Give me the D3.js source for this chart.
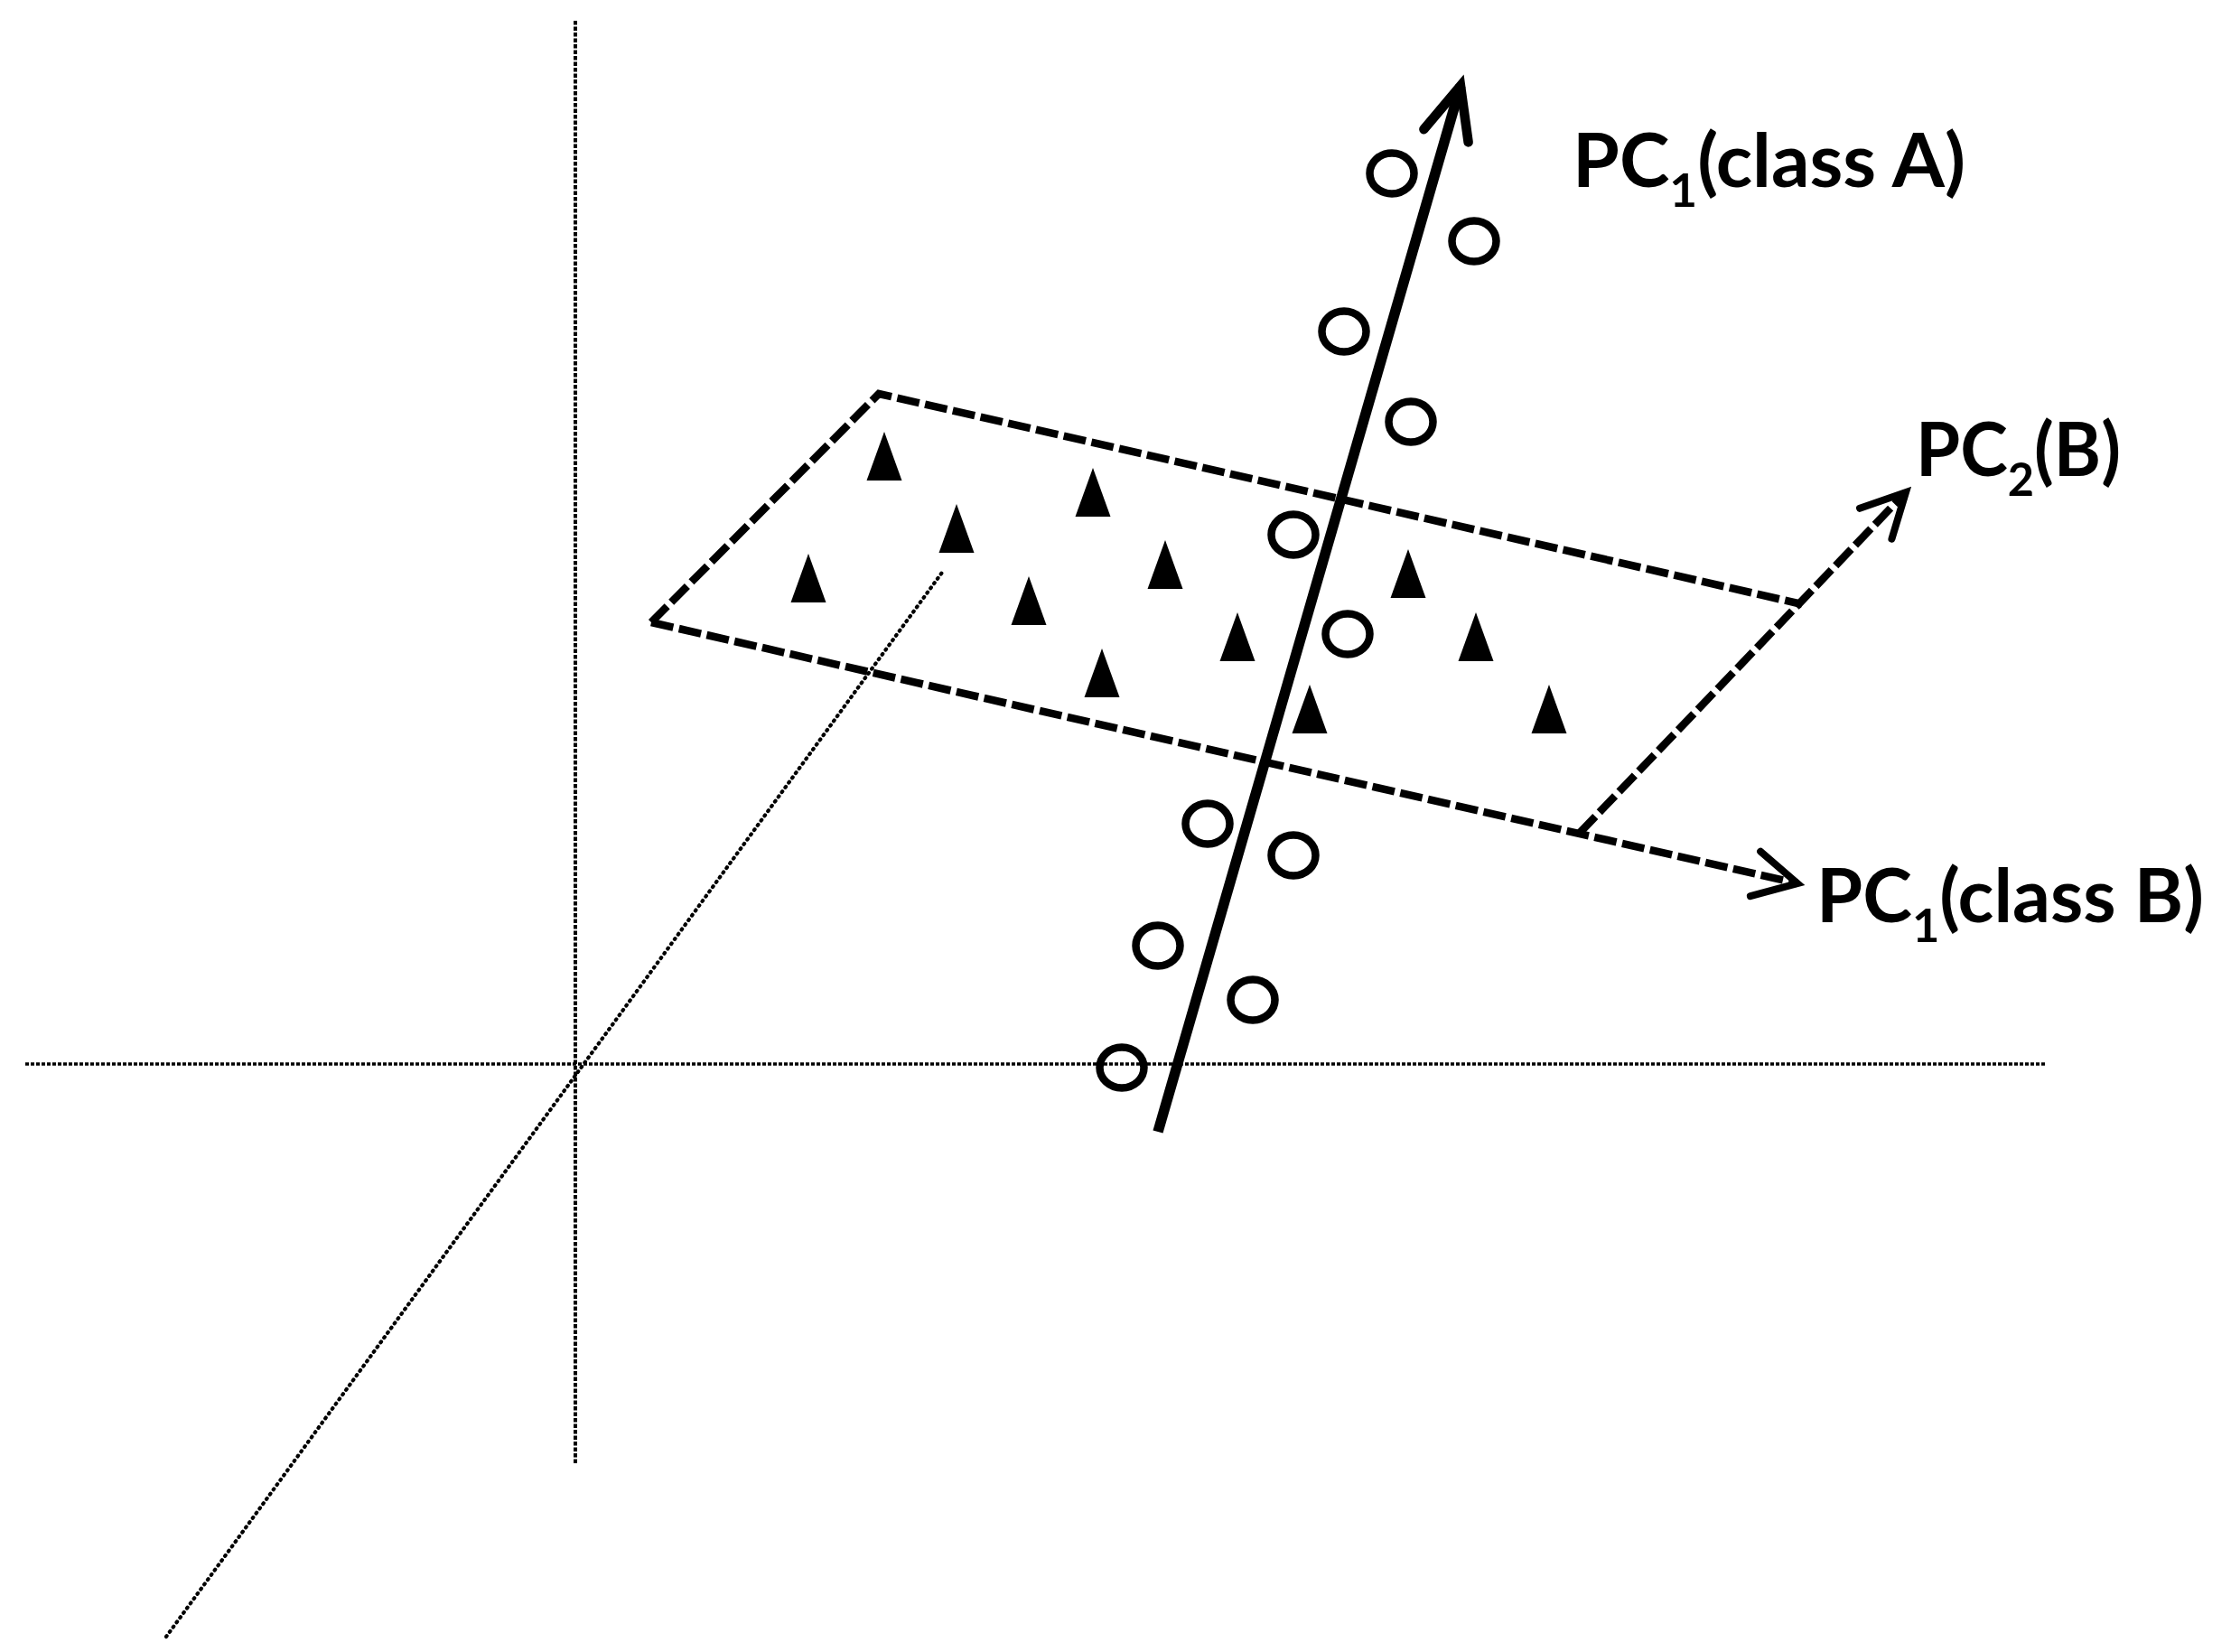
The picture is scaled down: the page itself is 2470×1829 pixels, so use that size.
<!DOCTYPE html>
<html>
<head>
<meta charset="utf-8">
<script src="https://cdn.jsdelivr.net/npm/d3@7"></script>
<style>
  html, body { margin: 0; padding: 0; background: #fff; }
  svg { display: block; }
</style>
</head>
<body>
<script>
// ---------- data (abstract diagram units, origin = axes crossing) ----------
const classA = [ // open circles, along PC1(class A)
  [9.04, 9.86], [9.95, 9.11], [8.51, 8.11], [9.25, 7.11], [7.95, 5.86],
  [8.55, 4.76], [7.00, 2.66], [7.95, 2.31], [6.45, 1.31], [7.50, 0.71], [6.05, -0.04]
];
const classB = [ // filled triangles, in the PC plane of class B
  [3.42, 6.73], [5.73, 6.33], [4.22, 5.93], [2.58, 5.38], [6.53, 5.53], [5.02, 5.13],
  [9.22, 5.43], [7.33, 4.73], [9.97, 4.73], [5.83, 4.33], [8.13, 3.93], [10.78, 3.93]
];
const axisH = [[-6.09, 0], [16.28, 0]];
const axisV = [[0, 11.55], [0, -4.42]];
const axisD = [[-4.53, -6.34], [4.08, 5.47]];
const pc1A = [[6.45, -0.75], [9.80, 10.83]];
const planeEdges = [[0.84, 4.89], [3.36, 7.42], [13.58, 5.09]];
const pc1B = [[0.84, 4.89], [13.53, 2.00]];
const pc2B = [[11.12, 2.56], [14.73, 6.33]];
const labels = [
  { parts: ["PC", "1", "(class A)"], pos: [11.04, 9.71], span: 4.35 },
  { parts: ["PC", "2", "(B)"],       pos: [14.84, 6.51], span: 2.27 },
  { parts: ["PC", "1", "(class B)"], pos: [13.74, 1.57], span: 4.29 }
];

// ---------- drawing ----------
const W = 2470, H = 1829;
const x = d3.scaleLinear().domain([0, 10]).range([637, 1637]);
const y = d3.scaleLinear().domain([0, 10]).range([1178, 178]);

const svg = d3.select("body").append("svg")
  .attr("width", W).attr("height", H).attr("viewBox", `0 0 ${W} ${H}`);
svg.append("rect").attr("width", W).attr("height", H).attr("fill", "#fff");

const line = d3.line().x(d => x(d[0])).y(d => y(d[1]));

// thin dotted axes
svg.append("path").attr("d", line(axisH)).attr("fill", "none")
  .attr("stroke", "#000").attr("stroke-width", 3.5).attr("stroke-dasharray", "4,2");
svg.append("path").attr("d", line(axisV)).attr("fill", "none")
  .attr("stroke", "#000").attr("stroke-width", 4).attr("stroke-dasharray", "4.5,2");
svg.append("path").attr("d", line(axisD)).attr("fill", "none")
  .attr("stroke", "#000").attr("stroke-width", 4.2).attr("stroke-linecap", "round")
  .attr("stroke-dasharray", "1,5.5");

// open arrowhead helper
function arrowHead(p0, p1, len, angDeg, sw) {
  const X0 = x(p0[0]), Y0 = y(p0[1]), X1 = x(p1[0]), Y1 = y(p1[1]);
  const a = Math.atan2(Y0 - Y1, X0 - X1);
  const r = angDeg * Math.PI / 180;
  const b1 = [X1 + len * Math.cos(a + r), Y1 + len * Math.sin(a + r)];
  const b2 = [X1 + len * Math.cos(a - r), Y1 + len * Math.sin(a - r)];
  svg.append("path")
    .attr("d", d3.line()([b1, [X1, Y1], b2]))
    .attr("fill", "none").attr("stroke", "#000").attr("stroke-width", sw)
    .attr("stroke-linecap", "round").attr("stroke-linejoin", "miter").attr("stroke-miterlimit", 10);
}

// dashed plane of class B
const dash = "25,6.5";
const dashW = 8.5;
svg.append("path").attr("d", line(planeEdges)).attr("fill", "none")
  .attr("stroke", "#000").attr("stroke-width", dashW).attr("stroke-dasharray", dash)
  .attr("stroke-linejoin", "miter");
svg.append("path").attr("d", line(pc1B)).attr("fill", "none")
  .attr("stroke", "#000").attr("stroke-width", dashW).attr("stroke-dasharray", dash);
svg.append("path").attr("d", line(pc2B)).attr("fill", "none")
  .attr("stroke", "#000").attr("stroke-width", dashW).attr("stroke-dasharray", dash);
arrowHead(pc1B[0], pc1B[1], 54, 28, 8);
arrowHead(pc2B[0], pc2B[1], 54, 27, 8);

// triangles (class B)
const triW = 39, triH = 54;
svg.append("g").selectAll("path").data(classB).join("path")
  .attr("d", d => {
    const cx = x(d[0]), cy = y(d[1]);
    return `M${cx},${cy - triH / 2}L${cx + triW / 2},${cy + triH / 2}L${cx - triW / 2},${cy + triH / 2}Z`;
  })
  .attr("fill", "#000");

// circles (class A)
svg.append("g").selectAll("ellipse").data(classA).join("ellipse")
  .attr("cx", d => x(d[0])).attr("cy", d => y(d[1]))
  .attr("rx", 24.5).attr("ry", 22.5)
  .attr("fill", "none").attr("stroke", "#000").attr("stroke-width", 8.5);

// solid PC1 (class A) arrow
svg.append("path").attr("d", line(pc1A)).attr("fill", "none")
  .attr("stroke", "#000").attr("stroke-width", 11.5).attr("stroke-linecap", "butt");
arrowHead(pc1A[0], pc1A[1], 63, 24, 10.5);

// labels
labels.forEach(l => {
  const g = svg.append("g");
  const t = g.append("text")
    .attr("x", 0).attr("y", 0)
    .attr("font-family", "Lato, 'Open Sans', sans-serif")
    .attr("font-weight", 700).attr("font-size", 82).attr("fill", "#000");
  t.append("tspan").text(l.parts[0]);
  t.append("tspan").attr("font-size", 52).attr("dy", 22).text(l.parts[1]);
  t.append("tspan").attr("dy", -22).text(l.parts[2]);
  const bb = t.node().getBBox();
  const target = x(l.span) - x(0);
  const sx = target / bb.width;
  g.attr("transform", `translate(${x(l.pos[0]) - bb.x * sx},${y(l.pos[1])}) scale(${sx},1)`);
});
</script>
</body>
</html>
